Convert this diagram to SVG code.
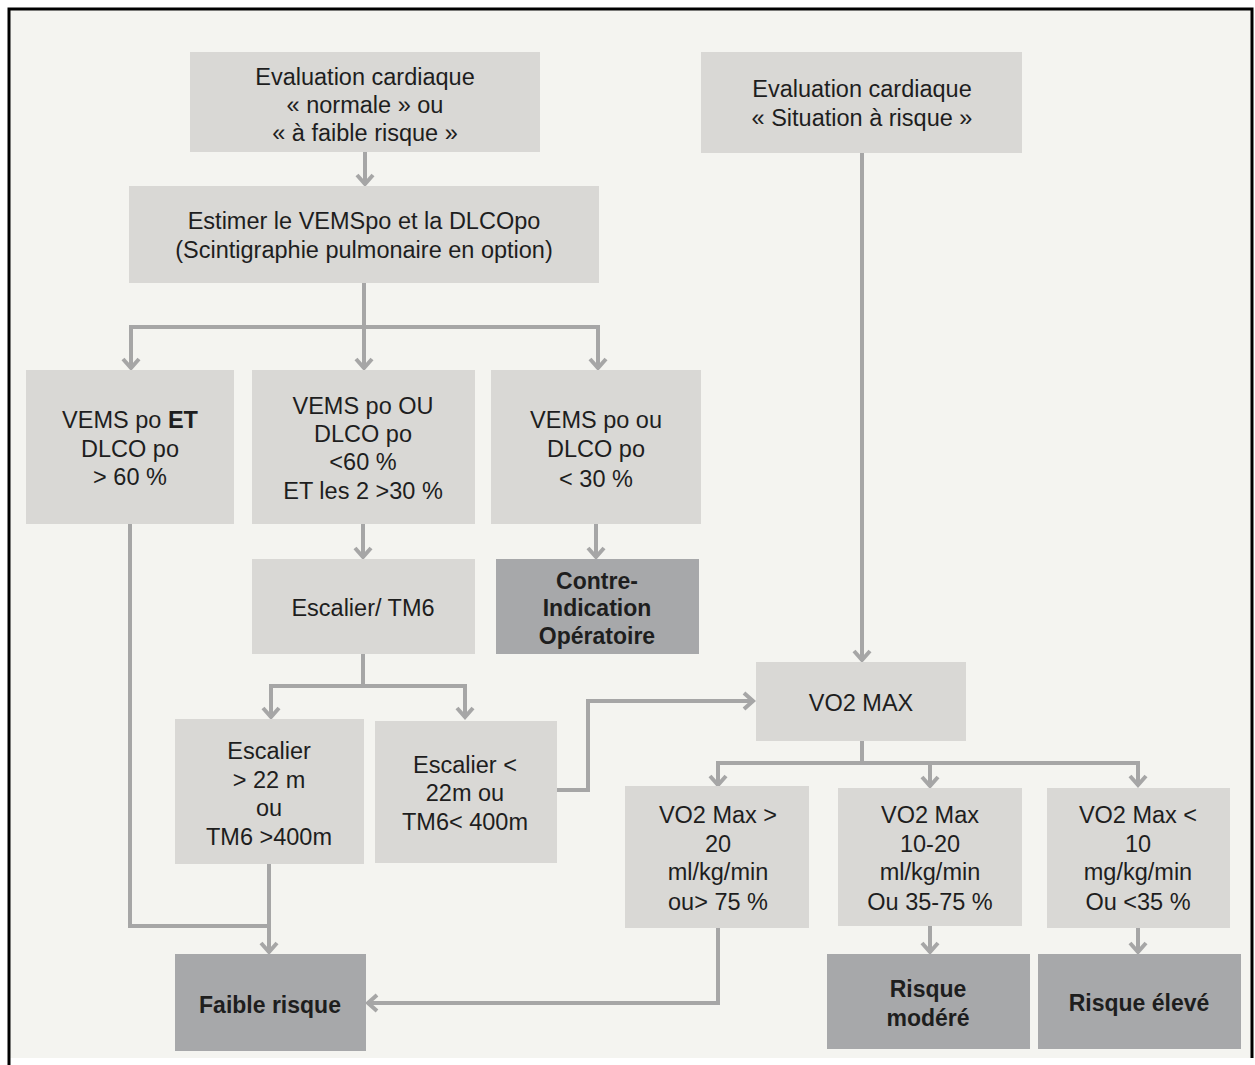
<svg xmlns="http://www.w3.org/2000/svg" width="1255" height="1065" viewBox="0 0 1255 1065">
<defs>
<style>
.bg{fill:#f4f4f0}
.lt{fill:#d9d8d5}
.dk{fill:#a7a8aa}
text{font-family:"Liberation Sans","Open Sans",sans-serif;font-size:23.5px;fill:#1e1e1e;text-anchor:middle;dominant-baseline:central}
.b{font-weight:bold;font-size:23px}
.c{fill:none;stroke:#a6a6a6;stroke-width:4}
</style>
<marker id="ah" viewBox="0 0 20 20" refX="18" refY="10" markerWidth="20" markerHeight="20" markerUnits="userSpaceOnUse" orient="auto">
<polyline points="8,2 17,10 8,18" fill="none" stroke="#a6a6a6" stroke-width="4"/>
</marker>
</defs>
<rect x="0" y="0" width="1255" height="1065" fill="#ffffff"/>
<rect class="bg" x="8" y="8" width="1245" height="1050"/>
<polyline points="9,1065 9,9 1252,9 1252,1058" fill="none" stroke="#000" stroke-width="3"/>

<g id="connectors">
<line class="c" x1="365" y1="152" x2="365" y2="185" marker-end="url(#ah)"/>
<line class="c" x1="364" y1="283" x2="364" y2="327"/>
<polyline class="c" points="131,369 131,327 598,327 598,369" marker-end="url(#ah)"/>
<line class="c" x1="131" y1="330" x2="131" y2="369" marker-end="url(#ah)"/>
<line class="c" x1="364" y1="327" x2="364" y2="369" marker-end="url(#ah)"/>
<line class="c" x1="363" y1="524" x2="363" y2="558" marker-end="url(#ah)"/>
<line class="c" x1="596" y1="524" x2="596" y2="558" marker-end="url(#ah)"/>
<line class="c" x1="363" y1="654" x2="363" y2="686"/>
<polyline class="c" points="271,718 271,686 465,686 465,718" marker-end="url(#ah)"/>
<line class="c" x1="271" y1="690" x2="271" y2="718" marker-end="url(#ah)"/>
<polyline class="c" points="557,790 588,790 588,701 754,701" marker-end="url(#ah)"/>
<line class="c" x1="862" y1="153" x2="862" y2="661" marker-end="url(#ah)"/>
<line class="c" x1="862" y1="741" x2="862" y2="763"/>
<polyline class="c" points="718,786 718,763 1138,763 1138,786" marker-end="url(#ah)"/>
<line class="c" x1="718" y1="766" x2="718" y2="786" marker-end="url(#ah)"/>
<line class="c" x1="930" y1="763" x2="930" y2="787" marker-end="url(#ah)"/>
<line class="c" x1="930" y1="926" x2="930" y2="953" marker-end="url(#ah)"/>
<line class="c" x1="1138" y1="928" x2="1138" y2="953" marker-end="url(#ah)"/>
<polyline class="c" points="130,524 130,926 269,926"/>
<line class="c" x1="269" y1="864" x2="269" y2="953" marker-end="url(#ah)"/>
<polyline class="c" points="718,928 718,1003 367,1003" marker-end="url(#ah)"/>
</g>

<g id="n1"><rect class="lt" x="190" y="52" width="350" height="100"/>
<text x="365" y="77">Evaluation cardiaque</text><text x="365" y="105">« normale » ou</text><text x="365" y="133">« à faible risque »</text></g>
<g id="n2"><rect class="lt" x="129" y="186" width="470" height="97"/>
<text x="364" y="221">Estimer le VEMSpo et la DLCOpo</text><text x="364" y="250">(Scintigraphie pulmonaire en option)</text></g>
<g id="n3"><rect class="lt" x="701" y="52" width="321" height="101"/>
<text x="862" y="89">Evaluation cardiaque</text><text x="862" y="118">« Situation à risque »</text></g>
<g id="n4"><rect class="lt" x="26" y="370" width="208" height="154"/>
<text x="130" y="420">VEMS po <tspan style="font-weight:bold">ET</tspan></text><text x="130" y="449">DLCO po</text><text x="130" y="477">&gt; 60 %</text></g>
<g id="n5"><rect class="lt" x="252" y="370" width="223" height="154"/>
<text x="363" y="406">VEMS po OU</text><text x="363" y="434">DLCO po</text><text x="363" y="462">&lt;60 %</text><text x="363" y="491">ET les 2 &gt;30 %</text></g>
<g id="n6"><rect class="lt" x="491" y="370" width="210" height="154"/>
<text x="596" y="420">VEMS po ou</text><text x="596" y="449">DLCO po</text><text x="596" y="479">&lt; 30 %</text></g>
<g id="n7"><rect class="lt" x="252" y="559" width="223" height="95"/>
<text x="363" y="608">Escalier/ TM6</text></g>
<g id="n8"><rect class="dk" x="496" y="559" width="203" height="95"/>
<text class="b" x="597" y="581">Contre-</text><text class="b" x="597" y="608">Indication</text><text class="b" x="597" y="636">Opératoire</text></g>
<g id="n9"><rect class="lt" x="175" y="719" width="189" height="145"/>
<text x="269" y="751">Escalier</text><text x="269" y="780">&gt; 22 m</text><text x="269" y="808">ou</text><text x="269" y="837">TM6 &gt;400m</text></g>
<g id="n10"><rect class="lt" x="375" y="721" width="182" height="142"/>
<text x="465" y="765">Escalier &lt;</text><text x="465" y="793">22m ou</text><text x="465" y="822">TM6&lt; 400m</text></g>
<g id="n11"><rect class="lt" x="756" y="662" width="210" height="79"/>
<text x="861" y="703">VO2 MAX</text></g>
<g id="n12"><rect class="lt" x="625" y="786" width="184" height="142"/>
<text x="718" y="815">VO2 Max &gt;</text><text x="718" y="844">20</text><text x="718" y="872">ml/kg/min</text><text x="718" y="902">ou&gt; 75 %</text></g>
<g id="n13"><rect class="lt" x="838" y="788" width="184" height="138"/>
<text x="930" y="815">VO2 Max</text><text x="930" y="844">10-20</text><text x="930" y="872">ml/kg/min</text><text x="930" y="902">Ou 35-75 %</text></g>
<g id="n14"><rect class="lt" x="1047" y="788" width="183" height="140"/>
<text x="1138" y="815">VO2 Max &lt;</text><text x="1138" y="844">10</text><text x="1138" y="872">mg/kg/min</text><text x="1138" y="902">Ou &lt;35 %</text></g>
<g id="n15"><rect class="dk" x="175" y="954" width="191" height="97"/>
<text class="b" x="270" y="1005">Faible risque</text></g>
<g id="n16"><rect class="dk" x="827" y="954" width="203" height="95"/>
<text class="b" x="928" y="989">Risque</text><text class="b" x="928" y="1018">modéré</text></g>
<g id="n17"><rect class="dk" x="1038" y="954" width="203" height="95"/>
<text class="b" x="1139" y="1003">Risque élevé</text></g>
</svg>
